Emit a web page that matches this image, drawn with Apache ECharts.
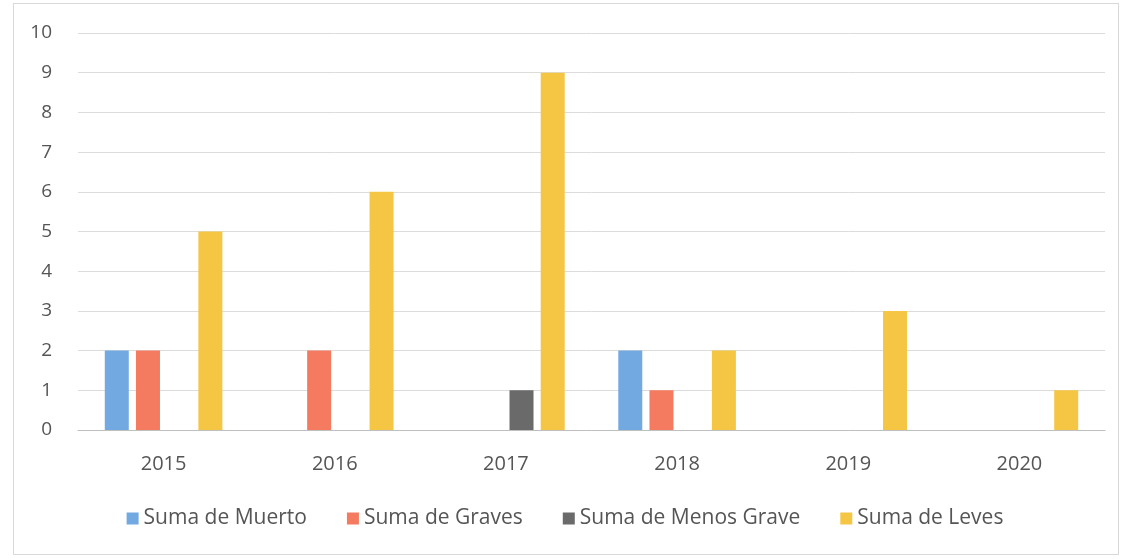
<!DOCTYPE html>
<html>
<head>
<meta charset="utf-8">
<style>
  html, body { margin: 0; padding: 0; background: #fff; }
  #chart { width: 1130px; height: 559px; }
  .frame { position: absolute; left: 13px; top: 3px; width: 1104px; height: 550px; border: 1px solid #d9d9d9; pointer-events: none; }
</style>
<script src="https://cdn.jsdelivr.net/npm/echarts@6/dist/echarts.min.js"></script>
</head>
<body>
<div class="frame"></div>
<div id="chart"></div>
<script>
// años
const years = ['2015', '2016', '2017', '2018', '2019', '2020'];
// valores por serie
const muerto = [2, 0, 0, 2, 0, 0];
const graves = [2, 2, 0, 1, 0, 0];
const menosGrave = [0, 0, 1, 0, 0, 0];
const leves = [5, 6, 9, 2, 3, 1];

const names = ['Suma de Muerto', 'Suma de Graves', 'Suma de Menos Grave', 'Suma de Leves'];
const colors = ['#72a9e0', '#f47b60', '#6a6a6a', '#f5c544'];
const values = [muerto, graves, menosGrave, leves];

const myChart = echarts.init(document.getElementById('chart'));
const option = {
    animation: false,
    color: colors,
    textStyle: { fontFamily: 'Open Sans, Noto Sans, sans-serif' },
    grid: {
        left: 78,
        right: 25,
        top: 33,
        bottom: 129
    },
    legend: {
        bottom: 25,
        left: 'center',
        icon: 'rect',
        itemWidth: 12,
        itemHeight: 12,
        itemGap: 40,
        textStyle: { fontSize: 21, color: '#555' },
        data: names
    },
    xAxis: {
        type: 'category',
        data: years,
        axisTick: { show: false },
        axisLine: { lineStyle: { color: '#bfbfbf' } },
        axisLabel: { fontSize: 20, color: '#555', margin: 24 }
    },
    yAxis: {
        type: 'value',
        min: 0,
        max: 10,
        interval: 1,
        axisLabel: { fontSize: 19, color: '#555', margin: 26 },
        splitLine: { lineStyle: { color: '#dcdcdc' } }
    },
    series: values.map((item, index) => {
        return {
            name: names[index],
            type: 'bar',
            data: item,
            barWidth: 24,
            barGap: '30%',
            barCategoryGap: '30%'
        }
    })
};
myChart.setOption(option);
</script>
</body>
</html>
